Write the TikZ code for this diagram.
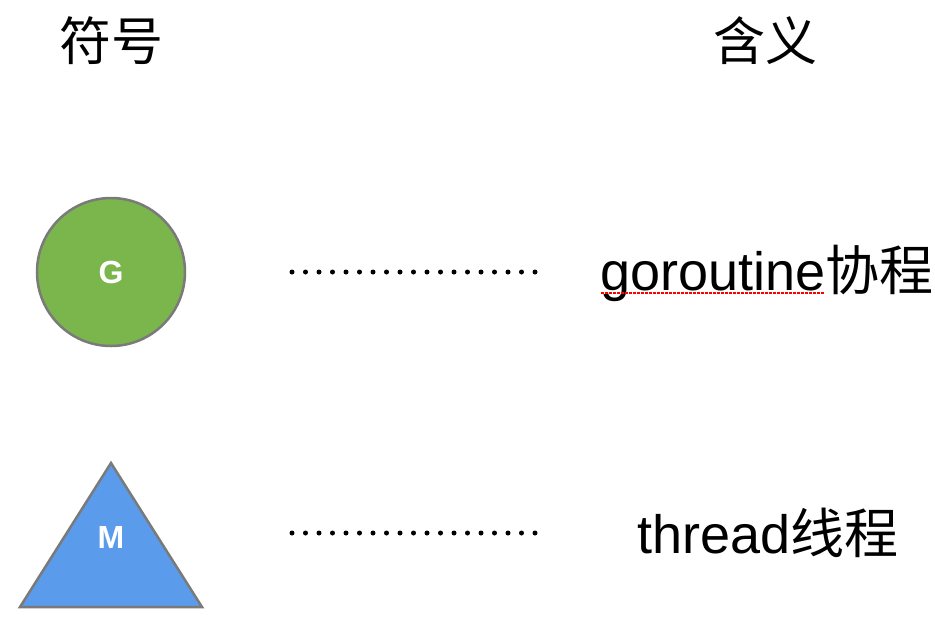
\documentclass[tikz,border=0pt]{standalone}
\usepackage{fontspec}
\setmainfont{Liberation Sans}
\newfontfamily\cjk{Noto Sans CJK SC}
\usetikzlibrary{positioning}
\definecolor{ggreen}{HTML}{7AB64B}
\definecolor{mblue}{HTML}{5B9BEB}
\definecolor{edgegray}{HTML}{7A7A7A}
\newcommand{\bigtext}{\fontsize{54}{60}\selectfont}
\newcommand{\symtext}{\fontsize{32}{36}\selectfont\bfseries}
\begin{document}
\begin{tikzpicture}[x=1pt, y=-1pt,
	head/.style = {inner sep=0pt, font=\fontsize{52}{60}\selectfont\cjk},
	meaning/.style = {inner sep=0pt, anchor=base west, font=\bigtext},
	gnode/.style = {draw=edgegray, line width=2.5pt, circle, fill=ggreen, minimum size=148pt, inner sep=0pt, text=white, font=\symtext},
	mlabel/.style = {inner sep=0pt, text=white, font=\symtext},
	dots/.style = {line width=5pt, line cap=round, dash pattern=on 0pt off 13.5pt}]
	\useasboundingbox (0,0) rectangle (935,638);
	% headings
	\node[head] (sym) at (111,41) {符号};
	\node[head] (mean) at (765,41) {含义};
	% goroutine row
	\node[gnode] (G) at (111,272) {G};
	\node[meaning] (gtext) at (600,290) {goroutine{\cjk 协程}};
	\coordinate (g1) at (292,272);
	\coordinate (g2) at (535.5,272);
	\draw[dots] (g1) -- (g2);
	\draw[red, line width=2pt, dash pattern=on 2.5pt off 1.5pt] (gtext.base west) ++(1,3) coordinate (u1) -- ++(223,0) coordinate (u2);
	% thread row
	\draw[draw=edgegray, line width=2.5pt, fill=mblue, line join=miter] (111,463) coordinate (mtop) -- (202,607) -- (20,607) -- cycle;
	\node[mlabel] (M) at (111,537) {M};
	\node[meaning] (mtext) at (637,553) {thread{\cjk 线程}};
	\coordinate (m1) at (292,533);
	\coordinate (m2) at (535.5,533);
	\draw[dots] (m1) -- (m2);
\end{tikzpicture}
\end{document}
